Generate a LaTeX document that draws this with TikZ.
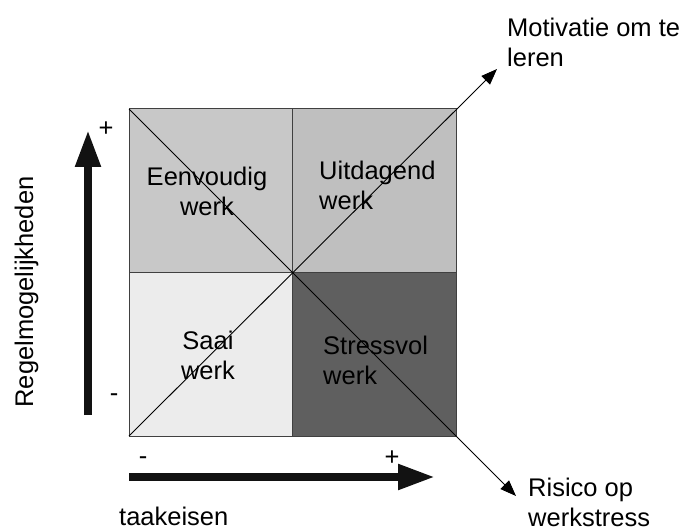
\documentclass[tikz,border=0pt]{standalone}
\usepackage{fontspec}
\setmainfont{Liberation Sans}
\usetikzlibrary{arrows.meta,positioning,calc}

\definecolor{quadTL}{RGB}{200,200,200}
\definecolor{quadTR}{RGB}{191,191,191}
\definecolor{quadBL}{RGB}{236,236,236}
\definecolor{quadBR}{RGB}{95,95,95}

\begin{document}
\begin{tikzpicture}[
    x=1pt, y=1pt,
    quad/.style={draw=black!75, line width=1pt, minimum size=163.5pt, inner sep=0pt, outer sep=0pt},
    lbl/.style={font=\fontsize{25.5}{29.5}\selectfont, inner sep=0pt},
    axis/.style={line width=8pt, black!93, -{Triangle[length=37pt,width=24pt]}},
    diag/.style={line width=0.9pt, -{Triangle[length=16pt,width=12pt]}},
  ]
  \useasboundingbox (0,0) rectangle (685,531);
  % the four quadrants
  \node[quad, fill=quadBL, anchor=south west] (bl) at (129,95) {};
  \node[quad, fill=quadBR, right=0pt of bl] (br) {};
  \node[quad, fill=quadTL, above=0pt of bl] (tl) {};
  \node[quad, fill=quadTR, above=0pt of br] (tr) {};

  % diagonals running out of the square
  \coordinate (motiv) at (497,462);
  \coordinate (risk) at (516,35);
  \draw[diag] (bl.south west) -- (motiv);
  \draw[diag] (tl.north west) -- (risk);

  % thick axes
  \coordinate (ylo) at (88,116);
  \coordinate (yhi) at (88,401);
  \coordinate (xlo) at (129,54);
  \coordinate (xhi) at (435,54);
  \draw[axis] (ylo) -- (yhi);
  \draw[axis] (xlo) -- (xhi);

  \node[lbl] (yplus) at (106,402) {+};
  \node[lbl] (yminus) at (114,133) {-};
  \node[lbl] (xminus) at (143,70) {-};
  \node[lbl] (xplus) at (392,73) {+};

  \node[lbl, rotate=90, anchor=base] (rules) at (33,239) {Regelmogelijkheden};
  \node[lbl, anchor=base west] (demands) at (119,6) {taakeisen};

  % quadrant labels
  \node[lbl, align=center, anchor=north] (easy) at (207,364) {Eenvoudig\\werk};
  \node[lbl, align=left, anchor=north west] (chall) at (319,370) {Uitdagend\\werk};
  \node[lbl, align=center, anchor=north] (dull) at (208,200) {Saai\\werk};
  \node[lbl, align=left, anchor=north west] (stress) at (323,195) {Stressvol\\werk};

  % outcome labels at the arrow tips
  \node[lbl, align=left, anchor=north west] (motivlbl) at (507,513) {Motivatie om te\\leren};
  \node[lbl, align=left, anchor=north west] (risklbl) at (528,53) {Risico op\\werkstress};
\end{tikzpicture}
\end{document}
